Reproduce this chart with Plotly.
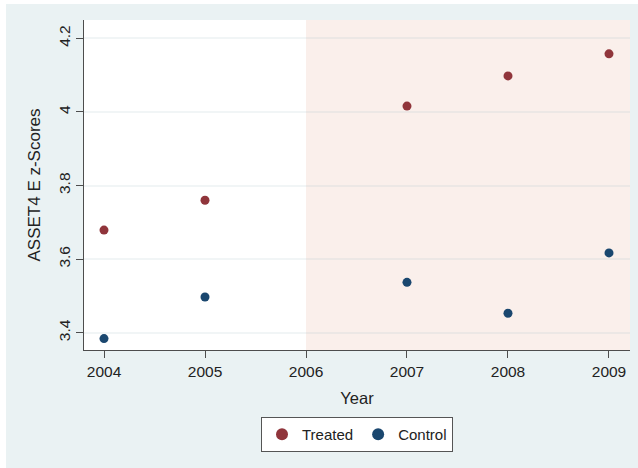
import plotly.graph_objects as go

# Mean ASSET4 environmental z-scores by year
years = [2004, 2005, 2007, 2008, 2009]
treated = [3.679, 3.760, 4.016, 4.098, 4.158]
control = [3.384, 3.497, 3.537, 3.453, 3.617]

x_ticks = [2004, 2005, 2006, 2007, 2008, 2009]
y_ticks = [3.4, 3.6, 3.8, 4.0, 4.2]
y_tick_text = ["3.4", "3.6", "3.8", "4", "4.2"]
post_start = 2006

x_range = [2003.802, 2009.208]
y_range = [3.353, 4.25]

MAROON = "#90353B"
NAVY = "#1A476F"
BG = "#EAF2F3"
SHADE = "#FAEFEB"
AXIS = "#4d4d4d"
FONT = "Liberation Sans, Arial, sans-serif"

fig = go.Figure()
fig.add_trace(go.Scatter(x=years, y=treated, mode="markers", name="Treated",
                         marker=dict(color=MAROON, size=9)))
fig.add_trace(go.Scatter(x=years, y=control, mode="markers", name="Control",
                         marker=dict(color=NAVY, size=9)))

W, H = 638, 468
L, R, T, B = 84, 8, 20, 118
pw, ph = W - L - R, H - T - B

def px_x(px):
    return (px - L) / pw

def px_y(py):
    return (H - B - py) / ph

shapes = [
    # graph region background
    dict(type="rect", xref="paper", yref="paper", layer="below",
         x0=px_x(6), x1=px_x(640), y0=px_y(470), y1=px_y(4),
         fillcolor=BG, line=dict(width=0)),
    # plot region
    dict(type="rect", xref="paper", yref="paper", layer="below",
         x0=0, x1=1, y0=0, y1=1, fillcolor="white", line=dict(width=0)),
    # post-period shading
    dict(type="rect", xref="x", yref="paper", layer="below",
         x0=post_start, x1=x_range[1], y0=0, y1=1,
         fillcolor=SHADE, line=dict(width=0)),
]

fig.update_layout(
    width=W, height=H,
    margin=dict(l=L, r=R, t=T, b=B, pad=0),
    paper_bgcolor="white",
    plot_bgcolor="rgba(0,0,0,0)",
    font=dict(family=FONT, size=15, color="#222222"),
    shapes=shapes,
    showlegend=True,
    legend=dict(orientation="h", x=0.5, xanchor="center",
                y=px_y(417), yanchor="top",
                bgcolor="white", bordercolor="#555555", borderwidth=1,
                font=dict(size=15, color="#222222"),
                itemsizing="constant"),
    xaxis=dict(range=x_range, tickmode="array", tickvals=x_ticks,
               ticks="outside", ticklen=7, tickwidth=1.2, tickcolor=AXIS,
               showline=True, linecolor=AXIS, linewidth=1.2,
               showgrid=False, zeroline=False,
               tickfont=dict(size=15.5),
               title=dict(text="Year", font=dict(size=16.5), standoff=13)),
    yaxis=dict(range=y_range, tickmode="array", tickvals=y_ticks,
               ticktext=y_tick_text, tickangle=-90,
               ticks="outside", ticklen=7, tickwidth=1.2, tickcolor=AXIS,
               showline=True, linecolor=AXIS, linewidth=1.2,
               showgrid=True, gridcolor="rgba(170,190,198,0.16)", gridwidth=1.5,
               zeroline=False,
               tickfont=dict(size=15.5),
               title=dict(text="ASSET4 E z-Scores", font=dict(size=17), standoff=10)),
)

fig.write_html("out.html")
